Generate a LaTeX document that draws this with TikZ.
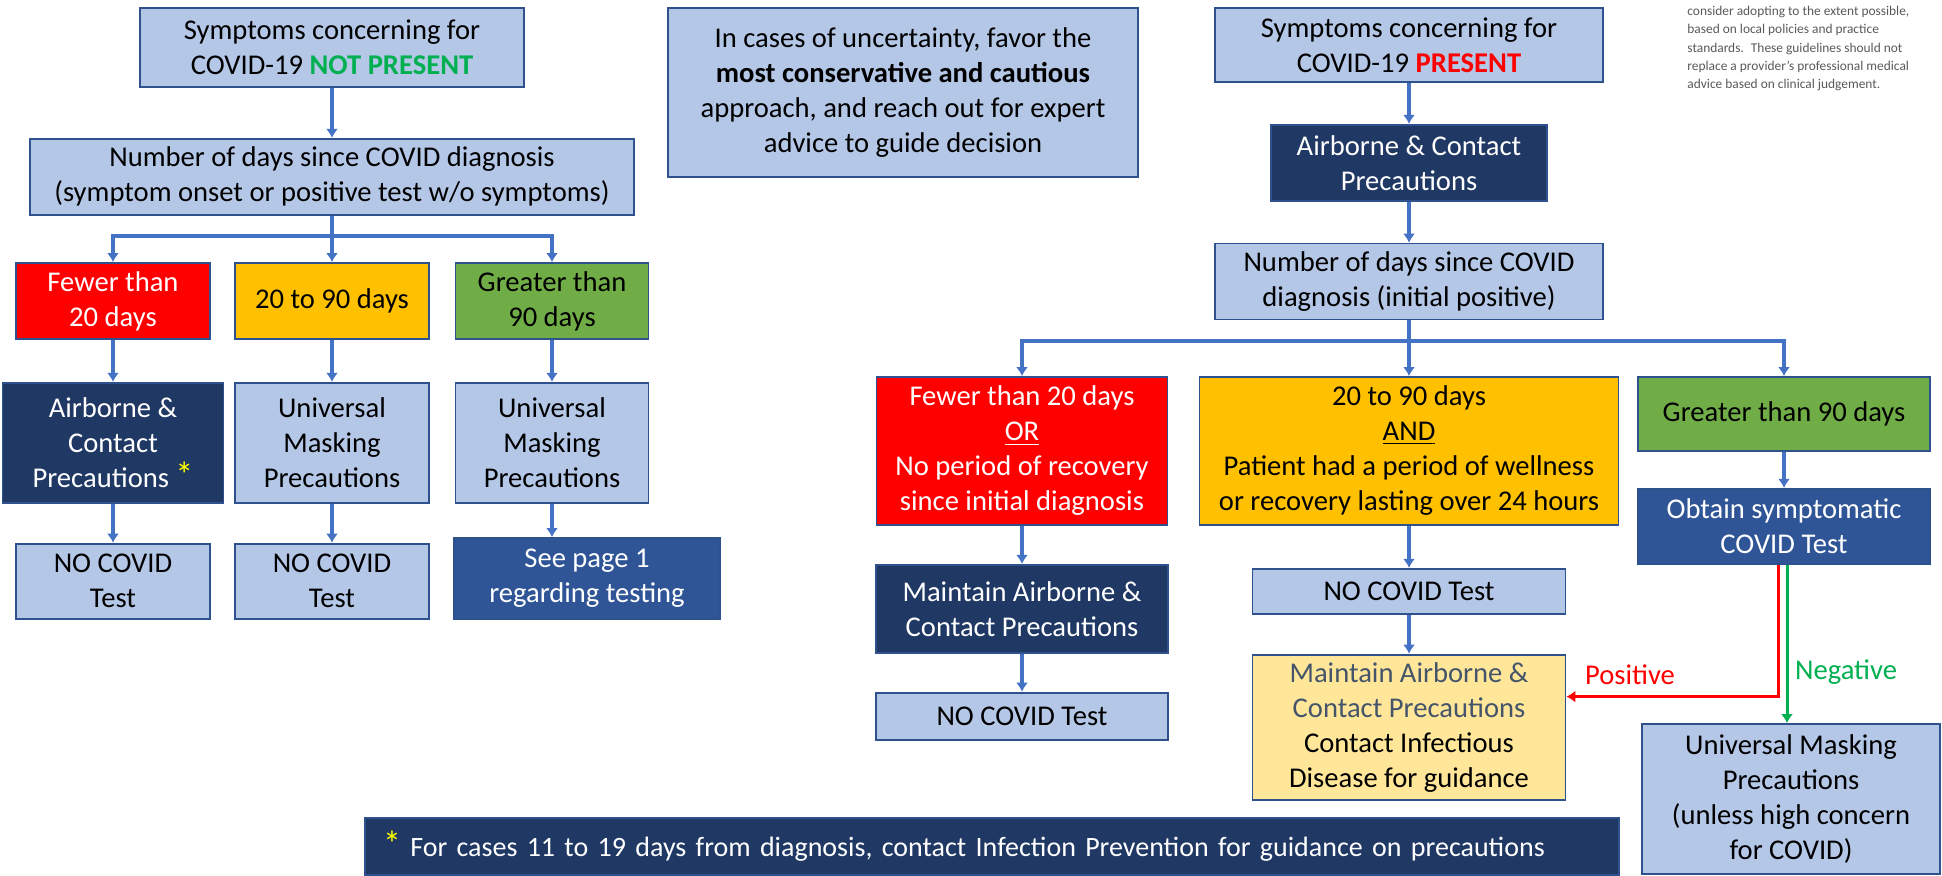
\documentclass[tikz,border=0pt]{standalone}
\usepackage{fontspec}
\setmainfont{Carlito}
\usepackage{tikz}
\usetikzlibrary{arrows.meta,positioning}
\definecolor{boxblue}{HTML}{B4C7E7}
\definecolor{edgeblue}{HTML}{2F528F}
\definecolor{linkblue}{HTML}{4472C4}
\definecolor{navy}{HTML}{203864}
\definecolor{midblue}{HTML}{2F5597}
\definecolor{alarmred}{HTML}{FF0000}
\definecolor{amber}{HTML}{FFC000}
\definecolor{leaf}{HTML}{70AD47}
\definecolor{pale}{HTML}{FFE699}
\definecolor{okgreen}{HTML}{00B050}
\definecolor{slate}{HTML}{44546A}
\definecolor{notegray}{HTML}{595959}
\definecolor{staryellow}{HTML}{FFFF00}
\tikzset{every picture/.style={
  >={Latex[length=4.5pt,width=6pt]}   % Small solid arrow heads.
  }
}
\newcommand{\yelstar}{\textcolor{staryellow}{\fontsize{18pt}{18pt}\selectfont *}}

\begin{document}
\begin{tikzpicture}[
    x=0.5pt, y=-0.5pt,
    every node/.style={
      font=\fontsize{14.3pt}{17.5pt}\selectfont
    },
    litebox/.style={            % Light blue boxes.
      rectangle,
      draw=edgeblue,
      line width=0.9pt,
      fill=boxblue,
      align=center,
      inner sep=0pt
    },
    darkbox/.style={litebox, fill=navy, text=white},
    midbox/.style={litebox, fill=midblue, text=white},
    redbox/.style={litebox, fill=alarmred, text=white},
    ambbox/.style={litebox, fill=amber},
    grnbox/.style={litebox, fill=leaf},
    yelbox/.style={litebox, fill=pale},
    conn/.style={               % Blue flow arrows.
      draw=linkblue,
      line width=1.6pt
    },
    posline/.style={draw=alarmred, line width=1.5pt},
    negline/.style={draw=okgreen, line width=1.5pt},
    lbl/.style={inner sep=0pt}
  ]
    \useasboundingbox (0,0) rectangle (1942,876);

    % Left half: symptoms not present.
    \node[litebox,minimum width=192pt,minimum height=39.5pt] (lnot) at (332,47.5)
      {Symptoms concerning for\\COVID-19 \textbf{\textcolor{okgreen}{NOT PRESENT}}};
    \node[litebox,minimum width=302pt,minimum height=38pt] (ldays) [below=25pt of lnot]
      {Number of days since COVID diagnosis\\(symptom onset or positive test w/o symptoms)};

    \node[redbox,minimum width=97pt,minimum height=38pt] (lfew) at (113,301)
      {Fewer than\\20 days};
    \node[ambbox,minimum width=97pt,minimum height=38pt] (lmid) at (332,301)
      {20 to 90 days};
    \node[grnbox,minimum width=96.5pt,minimum height=38pt] (lgreat) at (552,301)
      {Greater than\\90 days};

    \node[darkbox,minimum width=110.5pt,minimum height=60pt] (lair) [below=21pt of lfew]
      {Airborne \&\\Contact\\Precautions \yelstar};
    \node[litebox,minimum width=97pt,minimum height=60pt] (lmask1) [below=21pt of lmid]
      {Universal\\Masking\\Precautions};
    \node[litebox,minimum width=96.5pt,minimum height=60pt] (lmask2) [below=21pt of lgreat]
      {Universal\\Masking\\Precautions};

    \node[litebox,minimum width=97pt,minimum height=37.5pt] (ltest1) [below=19.5pt of lair]
      {NO COVID\\Test};
    \node[litebox,minimum width=97pt,minimum height=37.5pt] (ltest2) [below=19.5pt of lmask1]
      {NO COVID\\Test};
    \node[midbox,minimum width=133pt,minimum height=40.5pt] (lsee) at (587,578.5)
      {See page 1\\regarding testing};

    % Advice box in the middle.
    \node[litebox,minimum width=235pt,minimum height=84.5pt] (advice) at (903,92.5)
      {In cases of uncertainty, favor the\\\textbf{most conservative and cautious}\\
       approach, and reach out for expert\\advice to guide decision};

    % Right half: symptoms present.
    \node[litebox,minimum width=194pt,minimum height=37pt] (rpres) at (1409,45)
      {Symptoms concerning for\\COVID-19 \textbf{\textcolor{alarmred}{PRESENT}}};
    \node[darkbox,minimum width=138pt,minimum height=38pt] (rair) [below=20.5pt of rpres]
      {Airborne \& Contact\\Precautions};
    \node[litebox,minimum width=194pt,minimum height=38pt] (rdays) [below=20.5pt of rair]
      {Number of days since COVID\\diagnosis (initial positive)};

    \node[redbox,minimum width=145.5pt,minimum height=74pt] (rfew) at (1022,451)
      {Fewer than 20 days\\\underline{OR}\\No period of recovery\\since initial diagnosis};
    \node[ambbox,minimum width=209.5pt,minimum height=74pt] (rmid) at (1409,451)
      {20 to 90 days\\\underline{AND}\\Patient had a period of wellness\\or recovery lasting over 24 hours};
    \node[grnbox,minimum width=146pt,minimum height=37pt] (rgreat) at (1784,414)
      {Greater than 90 days};

    \node[darkbox,minimum width=146pt,minimum height=44pt] (rmaint) [below=19pt of rfew]
      {Maintain Airborne \&\\Contact Precautions};
    \node[litebox,minimum width=146pt,minimum height=23.5pt] (rtest1) [below=19pt of rmaint]
      {NO COVID Test};
    \node[litebox,minimum width=156.5pt,minimum height=22.5pt] (rtest2) [below=21pt of rmid]
      {NO COVID Test};
    \node[yelbox,minimum width=156.5pt,minimum height=72.5pt] (rcontact) [below=19.5pt of rtest2]
      {\textcolor{slate}{Maintain Airborne \&}\\\textcolor{slate}{Contact Precautions}\\
       Contact Infectious\\Disease for guidance};
    \node[midbox,minimum width=146pt,minimum height=37.5pt] (robt) [below=18pt of rgreat]
      {Obtain symptomatic\\COVID Test};
    \node[litebox,minimum width=149pt,minimum height=75pt] (runi) at (1791,799)
      {Universal Masking\\Precautions\\(unless high concern\\for COVID)};

    % Footnote and disclaimer.
    \node[darkbox,minimum width=627pt,minimum height=28.5pt,text width=609pt,
      inner xsep=9pt,align=left,font=\fontsize{14pt}{17pt}\selectfont] (foot) at (992,846.5)
      {\yelstar\ For cases 11 to 19 days from diagnosis, contact Infection
       Prevention for guidance on precautions};
    \node[lbl,anchor=north west,align=left,text=notegray,
      font=\fontsize{6.7pt}{9.15pt}\selectfont] (disc) at (1687,6)
      {consider adopting to the extent possible,\\based on local policies and practice\\
       standards.~ These guidelines should not\\replace a provider's professional medical\\
       advice based on clinical judgement.};

    % Left flow.
    \coordinate (lfork) at (332,236);
    \draw[conn,->] (lnot) -- (ldays);
    \draw[conn] (ldays.south) -- (lfork);
    \draw[conn,->] (lfork) -| (lfew.north);
    \draw[conn,->] (lfork) -- (lmid.north);
    \draw[conn,->] (lfork) -| (lgreat.north);
    \draw[conn,->] (lfew) -- (lair);
    \draw[conn,->] (lmid) -- (lmask1);
    \draw[conn,->] (lgreat) -- (lmask2);
    \draw[conn,->] (lair) -- (ltest1);
    \draw[conn,->] (lmask1) -- (ltest2);
    \draw[conn,->] (lmask2.south) -- (lmask2.south |- lsee.north);

    % Right flow.
    \coordinate (rfork) at (1409,341);
    \draw[conn,->] (rpres) -- (rair);
    \draw[conn,->] (rair) -- (rdays);
    \draw[conn] (rdays.south) -- (rfork);
    \draw[conn,->] (rfork) -| (rfew.north);
    \draw[conn,->] (rfork) -- (rmid.north);
    \draw[conn,->] (rfork) -| (rgreat.north);
    \draw[conn,->] (rfew) -- (rmaint);
    \draw[conn,->] (rmaint) -- (rtest1);
    \draw[conn,->] (rmid) -- (rtest2);
    \draw[conn,->] (rtest2) -- (rcontact);
    \draw[conn,->] (rgreat) -- (robt);

    % Test result branches.
    \draw[posline,->] ([xshift=-3pt]robt.south) |- ([yshift=15.25pt]rcontact.east);
    \draw[negline,->] ([xshift=1.5pt]robt.south) -- ([xshift=1.5pt]robt.south |- runi.north);
    \node[lbl,text=alarmred] (lpos) at (1630,675) {Positive};
    \node[lbl,text=okgreen] (lneg) at (1846,672) {Negative};
  \end{tikzpicture}
\end{document}
